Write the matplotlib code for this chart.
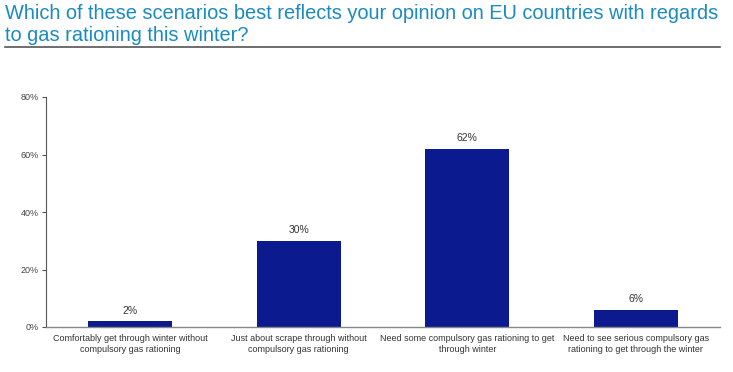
import matplotlib
matplotlib.use("Agg")
import matplotlib.pyplot as plt
from matplotlib.lines import Line2D

categories = [
    "Comfortably get through winter without\ncompulsory gas rationing",
    "Just about scrape through without\ncompulsory gas rationing",
    "Need some compulsory gas rationing to get\nthrough winter",
    "Need to see serious compulsory gas\nrationing to get through the winter",
]
values = [2, 30, 62, 6]
yticks = [0, 20, 40, 60, 80]
ytick_labels = ["0%", "20%", "40%", "60%", "80%"]
title = "Which of these scenarios best reflects your opinion on EU countries with regards\nto gas rationing this winter?"

plt.rcParams['font.family'] = ['Liberation Sans', 'DejaVu Sans']

fig = plt.figure(figsize=(7.33, 3.72), dpi=100)
ax = fig.add_axes([46/733, 1-327/372, 674/733, 230/372])

x = list(range(len(values)))
ax.bar(x, values, width=0.5, color="#0b1a8e", zorder=2)
for xi, v in zip(x, values):
    ax.text(xi, v + 2, f"{v}%", ha="center", va="bottom", fontsize=7.5, color="#333333")

ax.set_xlim(-0.5, 3.5)
ax.set_ylim(0, 80)
ax.set_yticks(yticks)
ax.set_yticklabels(ytick_labels, fontsize=6.5, color="#444444")
ax.set_xticks(x)
ax.set_xticklabels(categories, fontsize=6.5, color="#333333", linespacing=1.35)
ax.tick_params(axis="x", length=0, pad=5)
ax.tick_params(axis="y", length=3, width=0.8, color="#555555", pad=2)
for s in ["top", "right"]:
    ax.spines[s].set_visible(False)
ax.spines["left"].set_color("#555555")
ax.spines["bottom"].set_color("#888888")
ax.spines["left"].set_linewidth(0.8)
ax.spines["bottom"].set_linewidth(1.0)

fig.text(5/733, 1-4/372, title, ha="left", va="top", fontsize=14.4, color="#1a8bbf", linespacing=1.2)
fig.add_artist(Line2D([5/733, 720/733], [1-47/372, 1-47/372], color="#555555", lw=1.2, transform=fig.transFigure))

fig.savefig("out.png", dpi=100)
